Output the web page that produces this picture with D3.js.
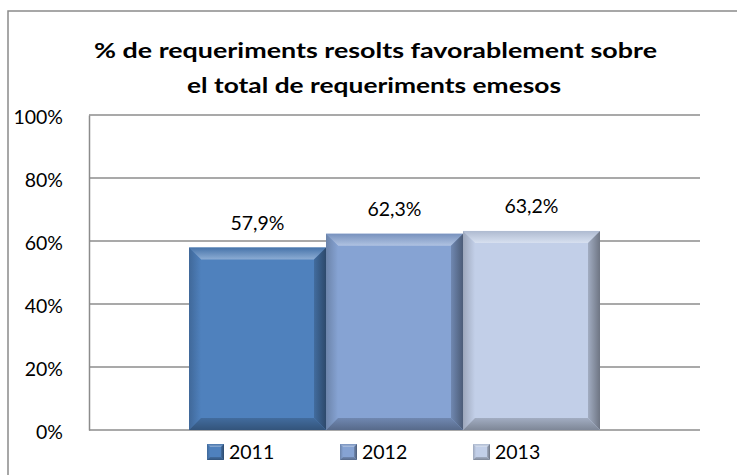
<!DOCTYPE html>
<html>
<head>
<meta charset="utf-8">
<script src="https://cdn.jsdelivr.net/npm/d3@7"></script>
<style>
  body { margin: 0; background: #fff; }
  text { font-family: Lato, "Open Sans", sans-serif; fill: #000; }
</style>
</head>
<body>
<svg id="chart" width="737" height="475"></svg>
<script>
const titleLines = ["% de requeriments resolts favorablement sobre", "el total de requeriments emesos"];
const years = ["2011", "2012", "2013"];
const values = [0.579, 0.623, 0.632];
const colors = ["#4f81bd", "#86a3d3", "#c2cfe8"];
const yTicks = [0, 0.2, 0.4, 0.6, 0.8, 1];

const width = 737;
const height = 475;
const plot = { left: 89, right: 700, top: 115, bottom: 430 };

const svg = d3.select("#chart");
const defs = svg.append("defs");

// outer frame (runs past the window on the right and bottom)
svg.append("rect")
  .attr("x", 8).attr("y", 11)
  .attr("width", 780).attr("height", 520)
  .attr("fill", "#fff")
  .attr("stroke", "#8a8a8a")
  .attr("stroke-width", 1.5);

// title
const titleWidths = [563, 374];
svg.selectAll(".title")
  .data(titleLines)
  .join("text")
  .attr("class", "title")
  .attr("x", (d, i) => i === 0 ? 94 : 187)
  .attr("y", (d, i) => 58 + i * 35)
  .attr("textLength", (d, i) => titleWidths[i])
  .attr("lengthAdjust", "spacingAndGlyphs")
  .style("font-size", "21px")
  .style("font-weight", "bold")
  .text(d => d);

// scales
const x = d3.scaleBand()
  .domain(years)
  .range([plot.left, plot.right])
  .paddingInner(0)
  .paddingOuter(0.73);

const y = d3.scaleLinear()
  .domain([0, 1])
  .range([plot.bottom, plot.top]);

// gridlines
svg.append("g")
  .selectAll("line")
  .data(yTicks)
  .join("line")
  .attr("x1", plot.left).attr("x2", plot.right)
  .attr("y1", d => y(d)).attr("y2", d => y(d))
  .attr("stroke", "#8c8c8c")
  .attr("stroke-width", 1.5);

// y axis
const yAxis = d3.axisLeft(y)
  .tickValues(yTicks)
  .tickFormat(d3.format(".0%"))
  .tickSize(0)
  .tickPadding(26);

const yg = svg.append("g")
  .attr("transform", `translate(${plot.left},0)`)
  .call(yAxis);
yg.select(".domain").attr("stroke", "#8c8c8c").attr("stroke-width", 1.5);
yg.selectAll("text")
  .attr("dy", "0.45em")
  .style("font-size", "19.5px")
  .style("font-family", "Lato, sans-serif");

// bevelled bar helper
function gradient(id, c1, c2, x1, y1, x2, y2) {
  const g = defs.append("linearGradient")
    .attr("id", id)
    .attr("x1", x1).attr("y1", y1).attr("x2", x2).attr("y2", y2);
  g.append("stop").attr("offset", "0%").attr("stop-color", c1);
  g.append("stop").attr("offset", "100%").attr("stop-color", c2);
  return `url(#${id})`;
}

function bevel(g, id, bx, by, w, h, color, b) {
  const c = d3.color(color);
  const light = d3.interpolateRgb(color, "#ffffff")(0.35);
  const dark = c.darker(1.6).formatHex();
  const mid = c.darker(0.5).formatHex();

  const top = gradient(id + "t", c.darker(0.3).formatHex(), light, 0, 0, 0, 1);
  const left = gradient(id + "l", c.darker(0.6).formatHex(), color, 0, 0, 1, 0);
  const right = gradient(id + "r", mid, dark, 0, 0, 1, 0);
  const bottom = gradient(id + "b", mid, c.darker(1.2).formatHex(), 0, 0, 0, 1);

  const pts = arr => arr.map(p => p.join(",")).join(" ");
  g.append("rect")
    .attr("x", bx).attr("y", by).attr("width", w).attr("height", h)
    .attr("fill", color);
  g.append("polygon").attr("fill", top)
    .attr("points", pts([[bx, by], [bx + w, by], [bx + w - b, by + b], [bx + b, by + b]]));
  g.append("polygon").attr("fill", left)
    .attr("points", pts([[bx, by], [bx + b, by + b], [bx + b, by + h - b], [bx, by + h]]));
  g.append("polygon").attr("fill", right)
    .attr("points", pts([[bx + w, by], [bx + w, by + h], [bx + w - b, by + h - b], [bx + w - b, by + b]]));
  g.append("polygon").attr("fill", bottom)
    .attr("points", pts([[bx, by + h], [bx + w, by + h], [bx + w - b, by + h - b], [bx + b, by + h - b]]));
}

// bars
const bars = svg.append("g");
years.forEach((yr, i) => {
  const g = bars.append("g");
  bevel(g, "bar" + i, x(yr), y(values[i]), x.bandwidth(), y(0) - y(values[i]), colors[i], 12);
});

// value labels
const locale = d3.formatLocale({ decimal: ",", thousands: ".", grouping: [3], currency: ["", "€"] });
const pct = locale.format(".1%");
svg.append("g")
  .selectAll("text")
  .data(values)
  .join("text")
  .attr("x", (d, i) => x(years[i]) + x.bandwidth() / 2)
  .attr("y", d => y(d) - 18)
  .attr("text-anchor", "middle")
  .style("font-size", "19.5px")
  .text(d => pct(d));

// legend
const legend = svg.append("g");
years.forEach((yr, i) => {
  const lx = 207 + i * 133;
  const g = legend.append("g");
  bevel(g, "leg" + i, lx, 444, 17, 16, colors[i], 3);
  g.append("text")
    .attr("x", lx + 22)
    .attr("y", 459)
    .style("font-size", "19.5px")
    .text(yr);
});
</script>
</body>
</html>
